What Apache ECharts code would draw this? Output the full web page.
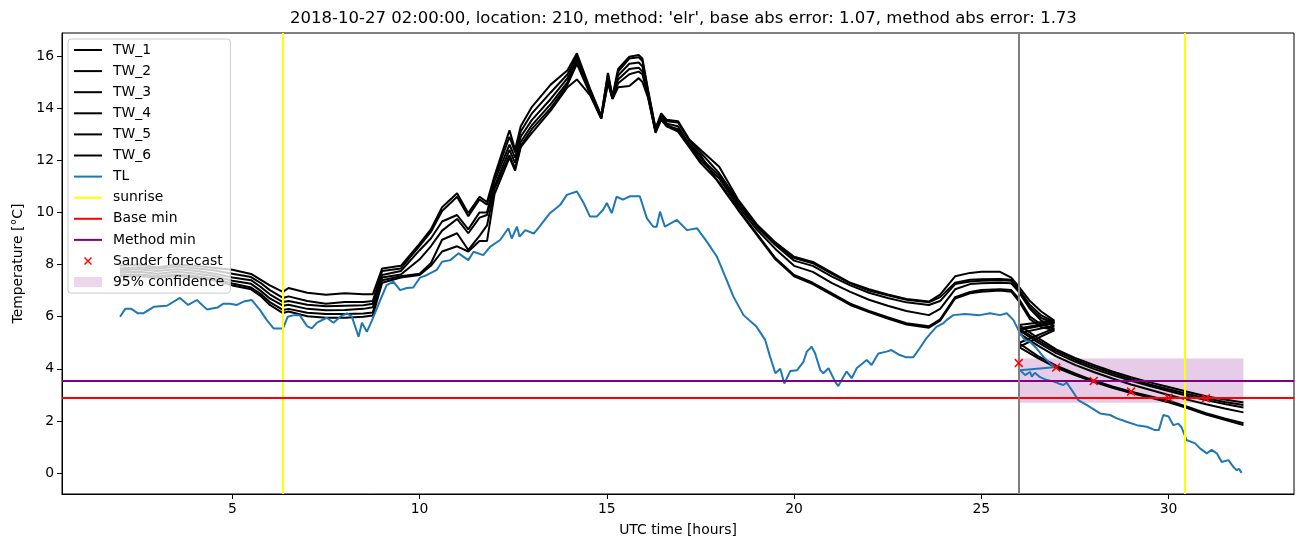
<!DOCTYPE html>
<html><head><meta charset="utf-8">
<script src="https://cdn.jsdelivr.net/npm/echarts@6/dist/echarts.min.js"></script>
<style>html,body{margin:0;padding:0;background:#fff}#chart{width:1311px;height:547px}</style>
</head><body><div id="chart"></div>
<script>
// ---------- data ----------
const xTickValues = [5, 10, 15, 20, 25, 30];
const yTickValues = [0, 2, 4, 6, 8, 10, 12, 14, 16];

const twObsHours = [2.0,2.5,3.0,3.5,4.0,4.5,5.0,5.5,5.75,6.0,6.35,6.5,7.0,7.5,8.0,8.5,8.75,9.0,9.5,10.0,10.3,10.6,11.0,11.3,11.6,11.8,12.0,12.4,12.55,12.7,13.0,13.5,13.95,14.2,14.55,14.85,15.03,15.15,15.3,15.6,15.85,15.95,16.1,16.3,16.45,16.6,16.9,17.2,17.5,18.0,18.5,19.0,19.5,20.0,20.5,21.0,21.5,22.0,22.5,23.0,23.6,23.9,24.3,24.7,25.0,25.5,25.8,26.0,26.3,26.6,26.95];
const twFcHours = [26.0,26.5,27.0,27.5,28.0,28.5,29.0,29.5,30.0,30.5,31.0,31.5,32.0];

const TW_1 = [7.95,8.0,7.9,8.0,7.95,7.88,7.8,7.64,7.42,7.2, 6.95,7.1,6.92,6.84,6.9,6.86,6.86,7.85,7.95,8.8, 9.35,10.2,10.73,9.97,10.6,10.4,11.4,13.15,12.4,13.3, 14.05,14.9,15.45,16.1,14.75,13.7,15.35,14.45,15.5,15.97, 16.04,15.9,14.7,13.2,13.8,13.55,13.5,12.8,12.4,11.75, 10.5,9.55,8.85,8.3,8.1,7.7,7.3,7.05,6.85,6.68, 6.58,6.85,7.55,7.68,7.72,7.72,7.5,7.15,6.6,6.2,5.85];
const TW_2 = [7.85,7.9,7.84,7.92,7.86,7.78,7.65,7.52,7.3,7.02, 6.72,6.78,6.6,6.5,6.56,6.56,6.6,7.75,7.85,8.72, 9.25,10.05,10.6,9.85,10.5,10.3,11.3,12.9,12.3,13.1, 13.8,14.6,15.3,16.0,14.7,13.68,15.3,14.42,15.4,15.9, 15.95,15.8,14.65,13.25,13.7,13.5,13.45,12.75,12.3,11.5, 10.45,9.5,8.8,8.25,8.05,7.65,7.28,7.0,6.82,6.65, 6.55,6.75,7.3,7.42,7.44,7.45,7.42,7.05,6.45,6.05,5.8];
const TW_3 = [7.78,7.82,7.75,7.82,7.76,7.66,7.5,7.4,7.15,6.86, 6.56,6.6,6.46,6.4,6.42,6.44,6.5,7.6,7.75,8.55, 9.0,9.65,9.9,9.35,10.0,10.0,11.2,12.6,12.1,12.9, 13.55,14.35,15.15,15.9,14.65,13.65,15.2,14.4,15.25,15.7, 15.75,15.6,14.55,13.15,13.65,13.4,13.3,12.6,12.1,11.4, 10.35,9.45,8.75,8.15,7.95,7.55,7.2,6.92,6.72,6.55, 6.45,6.6,7.25,7.35,7.38,7.4,7.38,7.0,6.35,5.95,5.75];
const TW_4 = [7.7,7.72,7.65,7.72,7.66,7.56,7.38,7.26,7.0,6.7, 6.42,6.46,6.3,6.25,6.26,6.3,6.36,7.5,7.62,8.2, 8.7,9.3,9.75,9.2,9.8,9.9,11.0,12.4,11.9,12.7, 13.35,14.15,15.0,15.8,14.6,13.62,15.1,14.38,15.1,15.5, 15.55,15.4,14.5,13.1,13.6,13.3,13.2,12.55,12.0,11.3, 10.25,9.35,8.6,7.95,7.72,7.3,6.95,6.65,6.42,6.22, 6.06,6.3,7.05,7.25,7.28,7.3,7.28,6.95,6.3,5.85,5.65];
const TW_5 = [7.62,7.62,7.56,7.62,7.56,7.46,7.27,7.12,6.88,6.56, 6.26,6.3,6.15,6.1,6.1,6.12,6.16,7.4,7.55,7.65, 8.05,8.95,9.2,8.56,9.1,9.5,10.9,12.2,11.7,12.55, 13.2,14.0,14.9,15.7,14.55,13.6,15.0,14.36,14.95,15.3, 15.4,15.3,14.45,13.05,13.55,13.3,13.1,12.5,11.9,11.15, 10.15,9.2,8.25,7.6,7.3,6.9,6.5,6.22,5.98,5.75, 5.63,5.9,6.75,6.95,7.02,7.05,7.02,6.7,6.0,5.7,5.55];
const TW_6 = [7.55,7.56,7.5,7.56,7.5,7.4,7.2,7.05,6.8,6.45, 6.14,6.2,6.02,5.96,5.96,6.0,6.05,7.3,7.5,7.6, 7.95,8.5,8.7,8.5,8.9,8.9,10.7,12.1,11.6,12.5, 13.05,13.9,14.8,15.1,14.5,13.6,14.95,14.35,14.8,14.85, 15.15,15.0,14.4,13.1,13.6,13.35,13.15,12.65,12.2,11.1, 10.1,9.15,8.2,7.55,7.25,6.85,6.45,6.18,5.93,5.7, 5.58,5.85,6.7,6.9,6.96,7.0,6.96,6.6,5.9,5.6,5.48];

const TW_1_fc = [5.68,5.2,4.75,4.42,4.15,3.9,3.68,3.48,3.3,3.12,2.95,2.82,2.71];
const TW_2_fc = [5.55,5.1,4.68,4.35,4.08,3.83,3.6,3.4,3.22,3.04,2.87,2.73,2.61];
const TW_3_fc = [5.49,5.02,4.6,4.28,4.0,3.76,3.54,3.34,3.15,2.97,2.8,2.65,2.52];
const TW_4_fc = [5.37,4.9,4.48,4.15,3.88,3.63,3.4,3.2,3.0,2.82,2.64,2.48,2.33];
const TW_5_fc = [4.99,4.5,4.12,3.82,3.55,3.32,3.12,2.95,2.78,2.55,2.3,2.1,1.91];
const TW_6_fc = [4.84,4.42,4.05,3.76,3.5,3.27,3.07,2.9,2.72,2.5,2.25,2.05,1.84];

const tlObs = [[2.0,6.0],[2.14,6.3],[2.3,6.3],[2.48,6.13],[2.62,6.13],[2.9,6.38],[3.25,6.42],[3.6,6.72],[3.82,6.45],[4.05,6.64],[4.32,6.28],[4.6,6.35],[4.76,6.5],[4.94,6.5],[5.12,6.45],[5.3,6.58],[5.52,6.64],[5.74,6.25],[5.92,5.87],[6.1,5.55],[6.35,5.55],[6.48,6.0],[6.65,6.06],[6.8,6.06],[6.99,5.64],[7.12,5.55],[7.26,5.77],[7.52,5.96],[7.7,5.77],[7.88,6.0],[8.06,6.13],[8.19,6.0],[8.37,5.23],[8.46,5.77],[8.59,5.42],[8.72,5.83],[8.95,6.64],[9.12,7.21],[9.3,7.34],[9.48,7.02],[9.66,7.1],[9.83,7.12],[10.01,7.5],[10.2,7.6],[10.46,7.8],[10.6,8.11],[10.82,8.17],[11.04,8.43],[11.3,8.17],[11.44,8.49],[11.7,8.36],[11.88,8.68],[12.15,8.94],[12.37,9.39],[12.46,9.0],[12.6,9.45],[12.67,9.07],[12.82,9.32],[13.05,9.19],[13.2,9.45],[13.48,9.97],[13.75,10.28],[13.93,10.67],[14.2,10.8],[14.38,10.36],[14.55,9.84],[14.73,9.84],[14.9,10.1],[15.0,10.36],[15.13,9.97],[15.26,10.6],[15.43,10.49],[15.62,10.62],[15.88,10.62],[16.07,9.77],[16.24,9.45],[16.33,9.45],[16.42,10.03],[16.55,9.45],[16.87,9.71],[17.14,9.32],[17.41,9.39],[17.67,8.88],[17.94,8.3],[18.2,7.4],[18.38,6.77],[18.65,6.06],[19.0,5.61],[19.23,5.1],[19.36,4.46],[19.5,3.83],[19.63,4.0],[19.74,3.44],[19.9,3.92],[20.08,3.95],[20.25,4.27],[20.34,4.66],[20.47,4.85],[20.56,4.6],[20.7,3.95],[20.78,3.83],[20.92,4.02],[21.1,3.5],[21.18,3.34],[21.4,3.9],[21.54,3.64],[21.67,4.02],[21.94,4.34],[22.07,4.15],[22.25,4.59],[22.47,4.66],[22.6,4.72],[22.82,4.53],[23.0,4.44],[23.18,4.44],[23.35,4.78],[23.53,5.17],[23.8,5.61],[23.98,5.74],[24.07,5.87],[24.25,6.06],[24.56,6.1],[24.96,6.06],[25.23,6.13],[25.5,6.06],[25.68,6.13],[25.86,5.87],[26.03,5.37],[26.17,5.1],[26.3,5.04],[26.48,4.78],[26.66,4.46],[26.84,4.21],[26.94,4.06]];
const tlFc = [[26.03,3.95],[26.17,3.76],[26.3,3.88],[26.35,3.7],[26.43,3.85],[26.57,3.68],[26.75,3.57],[26.92,3.52],[27.06,3.44],[27.19,3.38],[27.28,3.47],[27.42,3.18],[27.59,2.8],[27.82,2.61],[28.17,2.29],[28.44,2.23],[28.62,2.1],[28.88,1.97],[29.15,1.84],[29.42,1.78],[29.64,1.65],[29.74,1.65],[29.86,2.23],[30.0,2.17],[30.13,1.84],[30.26,1.9],[30.35,1.75],[30.48,1.27],[30.71,1.14],[30.84,0.95],[31.02,0.76],[31.15,0.89],[31.29,0.76],[31.42,0.43],[31.6,0.5],[31.73,0.24],[31.82,0.11],[31.88,0.17],[31.95,0.01]];

const sanderHours = [26, 27, 28, 29, 30, 31];
const sanderValues = [4.22, 4.05, 3.53, 3.13, 2.89, 2.87];

const sunriseHours = [6.35, 30.42];
const baseMin = 2.89;
const methodMin = 3.54;
const forecastStart = 26.0;
const confHours = [26, 32];
const confRange = [2.7, 4.4];

// ---------- chart ----------
const FONT = 'DejaVu Sans';
const twNames = ['TW_1','TW_2','TW_3','TW_4','TW_5','TW_6'];
const twObs = [TW_1, TW_2, TW_3, TW_4, TW_5, TW_6];
const twFc = [TW_1_fc, TW_2_fc, TW_3_fc, TW_4_fc, TW_5_fc, TW_6_fc];

const lineBase = { type: 'line', symbol: 'none', showSymbol: false, silent: true, animation: false };
const series = [];
twNames.forEach((name, i) => {
  const data = twObsHours.map((h, j) => [h, twObs[i][j]])
    .concat(twFcHours.map((h, j) => [h, twFc[i][j]]));
  series.push(Object.assign({}, lineBase, {
    name, data, color: '#000000',
    itemStyle: { color: '#000000' },
    lineStyle: { color: '#000000', width: 2 }
  }));
});
series.push(Object.assign({}, lineBase, {
  name: 'TL', data: tlObs.concat(tlFc), color: '#1f77b4',
  itemStyle: { color: '#1f77b4' }, lineStyle: { color: '#1f77b4', width: 2 }
}));
function mline(color, data) {
  return { symbol: 'none', silent: true, animation: false, label: { show: false },
    lineStyle: { color, width: 2, type: 'solid' }, emphasis: { disabled: true }, data };
}
series.push(Object.assign({}, lineBase, {
  name: 'sunrise', data: [], color: '#ffff00',
  itemStyle: { color: '#ffff00' }, lineStyle: { color: '#ffff00', width: 2 },
  markLine: mline('#ffff00', sunriseHours.map(h => ({ xAxis: h })))
}));
series.push(Object.assign({}, lineBase, {
  name: 'Base min', data: [], color: '#ff0000',
  itemStyle: { color: '#ff0000' }, lineStyle: { color: '#ff0000', width: 2 },
  markLine: mline('#ff0000', [{ yAxis: baseMin }])
}));
series.push(Object.assign({}, lineBase, {
  name: 'Method min', data: [], color: '#800080',
  itemStyle: { color: '#800080' }, lineStyle: { color: '#800080', width: 2 },
  markLine: mline('#800080', [{ yAxis: methodMin }])
}));
series.push(Object.assign({}, lineBase, {
  name: 'forecast start', data: [], color: '#808080',
  lineStyle: { color: '#808080', width: 2 },
  markLine: mline('#808080', [{ xAxis: forecastStart }])
}));
series.push({
  type: 'scatter', name: '95% confidence', silent: true, animation: false,
  color: 'rgba(128,0,128,0.2)', itemStyle: { color: 'rgba(128,0,128,0.2)' },
  data: [],
  markArea: { silent: true, itemStyle: { color: 'rgba(128,0,128,0.2)' }, label: { show: false },
    data: [[{ xAxis: confHours[0], yAxis: confRange[0] }, { xAxis: confHours[1], yAxis: confRange[1] }]] }
});
const crossPath = 'path://M0,1 L1,0 L4,3 L7,0 L8,1 L5,4 L8,7 L7,8 L4,5 L1,8 L0,7 L3,4 Z';
series.push({
  type: 'scatter', name: 'Sander forecast', silent: true, animation: false, z: 5,
  symbol: crossPath, symbolSize: 9, color: '#ff0000',
  itemStyle: { color: '#ff0000', opacity: 1 },
  data: sanderHours.map((h, i) => [h, sanderValues[i]])
});

const legendLine = 'path://M0,0 M28,14 M0,6 L28,6 L28,8 L0,8 Z';
const legendCross = 'path://M0,0 M14,14 M3,4 L4,3 L7,6 L10,3 L11,4 L8,7 L11,10 L10,11 L7,8 L4,11 L3,10 L6,7 Z';
const legendRect = 'path://M0,0 M28,14 M0,2 L28,2 L28,12 L0,12 Z';

const axisText = { color: '#000', fontSize: 13.9, fontFamily: FONT };
const option = {
  animation: false,
  backgroundColor: '#ffffff',
  title: {
    text: "2018-10-27 02:00:00, location: 210, method: 'elr', base abs error: 1.07, method abs error: 1.73",
    left: 285, top: 5,
    textStyle: { color: '#000', fontSize: 16.5, fontWeight: 'normal', fontFamily: FONT }
  },
  grid: { left: 62, right: 17, top: 33, bottom: 53, show: true, borderColor: '#000', borderWidth: 1, containLabel: false },
  xAxis: {
    type: 'value', min: 0.45, max: 33.35,
    name: 'UTC time [hours]', nameLocation: 'middle', nameGap: 29,
    nameTextStyle: axisText,
    axisLine: { show: true, onZero: false, lineStyle: { color: '#000', width: 1 } },
    axisTick: { show: true, inside: false, length: 5, lineStyle: { color: '#000', width: 1 }, customValues: xTickValues },
    axisLabel: Object.assign({ customValues: xTickValues, margin: 8 }, axisText),
    splitLine: { show: false }
  },
  yAxis: {
    type: 'value', min: -0.8, max: 16.88,
    name: 'Temperature [°C]', nameLocation: 'middle', nameGap: 36, nameRotate: 90,
    nameTextStyle: axisText,
    axisLine: { show: true, onZero: false, lineStyle: { color: '#000', width: 1 } },
    axisTick: { show: true, inside: false, length: 5, lineStyle: { color: '#000', width: 1 }, customValues: yTickValues },
    axisLabel: Object.assign({ customValues: yTickValues, margin: 8 }, axisText),
    splitLine: { show: false }
  },
  legend: {
    orient: 'vertical', left: 68, top: 39,
    itemWidth: 28, itemHeight: 14, itemGap: 7.1,
    padding: [4, 6, 4, 6],
    backgroundColor: 'rgba(255,255,255,0.8)', borderColor: '#cccccc', borderWidth: 1, borderRadius: 3,
    selectedMode: false,
    formatter: name => '{t|' + name + '}',
    textStyle: { color: '#000', fontSize: 13.9, fontFamily: FONT,
      rich: { t: { padding: [0, 0, 0, 6], color: '#000', fontSize: 13.9, fontFamily: FONT } } },
    data: twNames.concat(['TL', 'sunrise', 'Base min', 'Method min'])
      .map(n => ({ name: n, icon: legendLine }))
      .concat([{ name: 'Sander forecast', icon: legendCross }, { name: '95% confidence', icon: legendRect }])
  },
  series
};
const chart = echarts.init(document.getElementById('chart'), null, { renderer: 'canvas' });
chart.setOption(option);
</script></body></html>
